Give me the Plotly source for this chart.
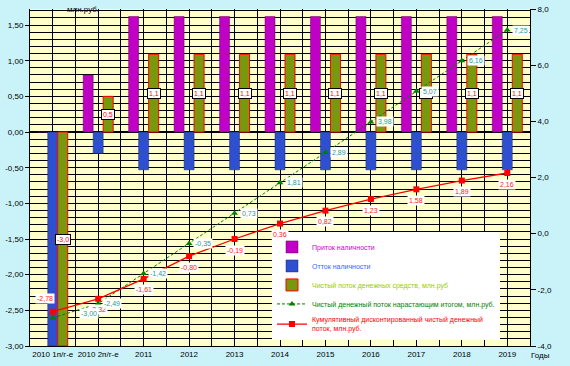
import plotly.graph_objects as go

categories = ["2010 1п/г-е", "2010 2п/г-е", "2011", "2012", "2013", "2014",
              "2015", "2016", "2017", "2018", "2019"]
inflow = [0.0, 0.80, 1.62, 1.62, 1.62, 1.62, 1.62, 1.62, 1.62, 1.62, 1.62]
outflow = [-3.00, -0.30, -0.53, -0.53, -0.53, -0.53, -0.53, -0.53, -0.53, -0.53, -0.53]
net_flow = [-3.0, 0.5, 1.09, 1.09, 1.09, 1.09, 1.09, 1.09, 1.09, 1.09, 1.09]
cum_net = [-3.00, -2.49, -1.42, -0.35, 0.73, 1.81, 2.89, 3.98, 5.07, 6.16, 7.25]
cum_disc = [-2.78, -2.32, -1.61, -0.80, -0.19, 0.36, 0.82, 1.23, 1.58, 1.89, 2.16]

left_ticks = [-3.0, -2.5, -2.0, -1.5, -1.0, -0.5, 0.0, 0.5, 1.0, 1.5]
right_ticks = [-4, -2, 0, 2, 4, 6, 8]

names = [
    ("Приток наличности", "#CC00CC"),
    ("Отток наличности", "#3366FF"),
    ("Чистый поток денежных средств, млн.руб", "#99CC00"),
    ("Чистый денежный поток нарастающим итогом, млн.руб.", "#008000"),
    ("Кумулятивный дисконтированный чистый денежный<br>поток, млн.руб.", "#FF0000"),
]

def lab(i):
    n, c = names[i]
    return f"<span style='color:{c}'>{n}</span>"

def fmt(v, d):
    return f"{v:.{d}f}".replace(".", ",")

xs = list(range(len(categories)))
bargap = 0.34
w = (1 - bargap) / 3

fig = go.Figure()
fig.add_trace(go.Bar(x=xs, y=inflow, name=lab(0),
                     marker=dict(color="#C000C4", line=dict(color="#600060", width=0.5))))
fig.add_trace(go.Bar(x=xs, y=outflow, name=lab(1),
                     marker=dict(color="#2E4FD0", line=dict(color="#1a2a70", width=0.5))))
fig.add_trace(go.Bar(x=xs, y=net_flow, name=lab(2),
                     marker=dict(color="#7A980E", line=dict(color="#FF0000", width=1))))
fig.add_trace(go.Scatter(x=xs, y=cum_net, name=lab(3), yaxis="y2",
                         mode="lines+markers",
                         line=dict(color="#008000", width=1, dash="3px,2px"),
                         marker=dict(symbol="triangle-up", size=6, color="#008000")))
fig.add_trace(go.Scatter(x=xs, y=cum_disc, name=lab(4), yaxis="y2",
                         mode="lines+markers",
                         line=dict(color="#FF0000", width=1.3),
                         marker=dict(symbol="square", size=6, color="#FF0000")))

ann = []
# bar labels
for i, v in enumerate(net_flow):
    ann.append(dict(x=xs[i] + w, y=v / 2, xref="x", yref="y", text=fmt(v, 1),
                    showarrow=False, font=dict(size=7, color="#FF0000", family="Liberation Sans"),
                    bgcolor="white", bordercolor="black", borderwidth=1, borderpad=1))
# red labels
for i, v in enumerate(cum_disc):
    xs_, ys_ = (0, -11)
    if i == 0:
        xs_, ys_ = (-8, 13)
    ann.append(dict(x=xs[i], y=v, xref="x", yref="y2", text=fmt(v, 2), showarrow=False,
                    xshift=xs_, yshift=ys_,
                    font=dict(size=7, color="#FF2020", family="Liberation Sans"),
                    bgcolor="white", borderpad=1))
# green labels
for i, v in enumerate(cum_net):
    xs_, ys_ = (14, 0)
    if i == 0:
        xs_, ys_ = (36, 4)
    ann.append(dict(x=xs[i], y=v, xref="x", yref="y2", text=fmt(v, 2), showarrow=False,
                    xshift=xs_, yshift=ys_,
                    font=dict(size=7, color="#1E9C96", family="Liberation Sans"),
                    bgcolor="white", borderpad=1))
ann.append(dict(x=0.07, y=1.0, xref="paper", yref="paper", text="млн.руб.", showarrow=False,
                font=dict(size=8, color="black"), yanchor="middle"))
ann.append(dict(x=1.0, y=0, xref="paper", yref="paper", text="Годы", showarrow=False,
                xshift=10, yshift=-9,
                font=dict(size=8, color="black"), xanchor="center", yanchor="middle"))

fig.update_layout(
    width=570, height=366,
    margin=dict(l=30, r=40, t=9, b=20, autoexpand=False),
    paper_bgcolor="#C9F3F9", plot_bgcolor="#FFFFCC",
    font=dict(family="Liberation Sans, Arial", size=8, color="black"),
    barmode="group", bargap=bargap, bargroupgap=0,
    showlegend=True,
    legend=dict(x=0.484, y=0.337, xanchor="left", yanchor="top", bgcolor="white",
                font=dict(size=7), itemwidth=30),
    annotations=ann,
    xaxis=dict(range=[-0.5, 10.5], tickvals=xs, ticktext=categories,
               showgrid=True, gridcolor="black", gridwidth=1,
               minor=dict(dtick=0.5, tick0=-0.5, showgrid=True, gridcolor="black", gridwidth=1),
               showline=True, linecolor="black", ticks="", tickfont=dict(size=8),
               mirror=False, zeroline=False, automargin=False),
    yaxis=dict(range=[-3, 1.725], tickvals=left_ticks, ticktext=[fmt(t, 2) for t in left_ticks],
               showgrid=True, gridcolor="black", gridwidth=1,
               minor=dict(dtick=0.1, tick0=0, showgrid=True, gridcolor="black", gridwidth=1),
               zeroline=True, zerolinecolor="black", zerolinewidth=2,
               showline=True, linecolor="black", ticks="outside", ticklen=4,
               tickcolor="black", tickfont=dict(size=8), automargin=False),
    yaxis2=dict(range=[-4, 8], overlaying="y", side="right", tickvals=right_ticks,
                ticktext=[fmt(t, 1) for t in right_ticks], showgrid=False, zeroline=False,
                showline=True, linecolor="black", ticks="outside", ticklen=5,
                tickcolor="black", tickfont=dict(size=8), automargin=False),
)

fig.write_html("out.html", config={"displayModeBar": False},
               post_script="document.body.style.margin='0';document.body.style.padding='0';")
